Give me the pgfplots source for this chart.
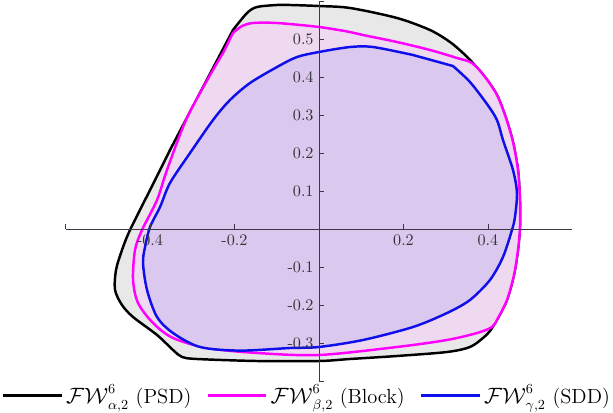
\documentclass[border=0pt]{standalone}
\usepackage{pgfplots}
\pgfplotsset{compat=1.18}
\definecolor{axcol}{RGB}{60,55,70}
\definecolor{gfill}{RGB}{232,232,232}
\definecolor{pfill}{RGB}{239,217,240}
\definecolor{bfill}{RGB}{218,200,238}
\definecolor{mag}{RGB}{255,0,255}
\definecolor{blu}{RGB}{15,15,235}
\begin{document}
\begin{tikzpicture}
\begin{axis}[
  x=274.6pt, y=247pt,
  axis lines=middle,
  xmin=-0.6, xmax=0.6, ymin=-0.4, ymax=0.6,
  axis line style={axcol, line width=0.5pt, -},
  xtick={-0.4,-0.2,0.2,0.4},
  xticklabels={-0.4,-0.2,0.2,0.4},
  ytick={-0.3,-0.2,-0.1,0.1,0.2,0.3,0.4,0.5},
  yticklabels={-0.3,-0.2,-0.1,0.1,0.2,0.3,0.4,0.5},
  extra x ticks={-0.6}, extra x tick labels={},
  extra y ticks={-0.4,0.6}, extra y tick labels={},
  tick style={axcol, line width=0.5pt},
  major tick length=3pt,
  tick align=inside,
  ticklabel style={font=\fontsize{10.5}{12}\selectfont, text=black!80},
  axis on top,
  clip=false,
  legend style={draw=none, fill=none, legend columns=-1,
    at={(0.4775,-0.038)}, anchor=center,
    font=\fontsize{13.3}{15}\selectfont,
    /tikz/every even column/.append style={column sep=8pt}},
  legend image code/.code={\draw[#1] (0pt,0pt) -- (38pt,0pt);},
]
\coordinate (O) at (axis cs:0,0);
\addplot[draw=black, fill=gfill, line width=1.6pt, smooth, forget plot] coordinates {
(-0.2036,0.5237) (-0.1704,0.5684) (-0.1467,0.5842) (-0.0994,0.5895) (-0.0686,0.5895) (0,0.5868) (0.0734,0.5816) (0.1846,0.5553) (0.2627,0.5237) (0.3101,0.4921) (0.3408,0.4632) (0.3621,0.4395) (0.3929,0.4) (0.4213,0.3526) (0.4426,0.2921) (0.4592,0.2289) (0.4710,0.1553) (0.4757,0.0763) (0.4757,0.0053) (0.4710,-0.0553) (0.4615,-0.1211) (0.4450,-0.1868) (0.4237,-0.2342) (0.4047,-0.2684) (0.3882,-0.2868) (0.3574,-0.3105) (0.3030,-0.3237) (0.1846,-0.3342) (0.0734,-0.3421) (0,-0.3474) (-0.1467,-0.3474) (-0.2888,-0.3421) (-0.3243,-0.3368) (-0.3456,-0.3184) (-0.3834,-0.2789) (-0.4402,-0.2316) (-0.4663,-0.2) (-0.4828,-0.1605) (-0.4805,-0.1079) (-0.4663,-0.0553) (-0.4473,-0.0026) (-0.4,0.1026) (-0.3527,0.2079)
} -- cycle;
\addplot[draw=mag, fill=pfill, line width=1.6pt, smooth, forget plot] coordinates {
(-0.2036,0.5158) (-0.1822,0.5342) (-0.1562,0.5421) (-0.0994,0.5421) (0,0.5316) (0.0734,0.5184) (0.1041,0.5105) (0.1846,0.4921) (0.2627,0.4711) (0.3266,0.45) (0.3621,0.4368) (0.3929,0.4) (0.4213,0.3526) (0.4426,0.2921) (0.4592,0.2289) (0.4710,0.1553) (0.4757,0.0763) (0.4757,0.0053) (0.4710,-0.0553) (0.4615,-0.1211) (0.4450,-0.1868) (0.4237,-0.2342) (0.4095,-0.2579) (0.3740,-0.2737) (0.3030,-0.2921) (0.1846,-0.3105) (0,-0.3316) (-0.1467,-0.3263) (-0.2651,-0.3132) (-0.3456,-0.2868) (-0.3929,-0.2474) (-0.4284,-0.1947) (-0.4402,-0.1342) (-0.4355,-0.0553) (-0.4189,-0.0026) (-0.3834,0.0763) (-0.3598,0.1553) (-0.3148,0.2868) (-0.2604,0.4) (-0.2272,0.4632)
} -- cycle;
\addplot[draw=blu, fill=bfill, line width=1.6pt, smooth, forget plot] coordinates {
(0.3172,0.4289) (0.3574,0.3868) (0.3976,0.3289) (0.4213,0.2868) (0.4355,0.2342) (0.4592,0.1553) (0.4686,0.0947) (0.4639,0.0316) (0.4568,-0.0026) (0.4355,-0.0737) (0.4047,-0.1342) (0.3574,-0.1868) (0.3030,-0.2211) (0.2225,-0.2579) (0.1041,-0.2921) (0,-0.3105) (-0.0686,-0.3132) (-0.1870,-0.3200) (-0.2817,-0.3105) (-0.3456,-0.2737) (-0.3834,-0.2316) (-0.4071,-0.1605) (-0.4166,-0.0895) (-0.4118,-0.0474) (-0.4,0.0053) (-0.3763,0.0579) (-0.3527,0.1211) (-0.3053,0.2) (-0.2509,0.2868) (-0.2107,0.3395) (-0.1633,0.3842) (-0.0994,0.4263) (-0.0521,0.4526) (0,0.4658) (0.0734,0.4789) (0.1278,0.4789) (0.2225,0.4579)
} -- cycle;
\addlegendimage{black, line width=1.6pt}
\addlegendentry{$\mathcal{FW}^6_{\alpha,2}$ (PSD)}
\addlegendimage{mag, line width=1.6pt}
\addlegendentry{$\mathcal{FW}^6_{\beta,2}$ (Block)}
\addlegendimage{blu, line width=1.6pt}
\addlegendentry{$\mathcal{FW}^6_{\gamma,2}$ (SDD)}
\end{axis}
\pgfresetboundingbox
\path[use as bounding box] ([shift={(-207.35pt,148.85pt)}]O) rectangle ([shift={(191.1pt,-118.95pt)}]O);
\end{tikzpicture}
\end{document}
